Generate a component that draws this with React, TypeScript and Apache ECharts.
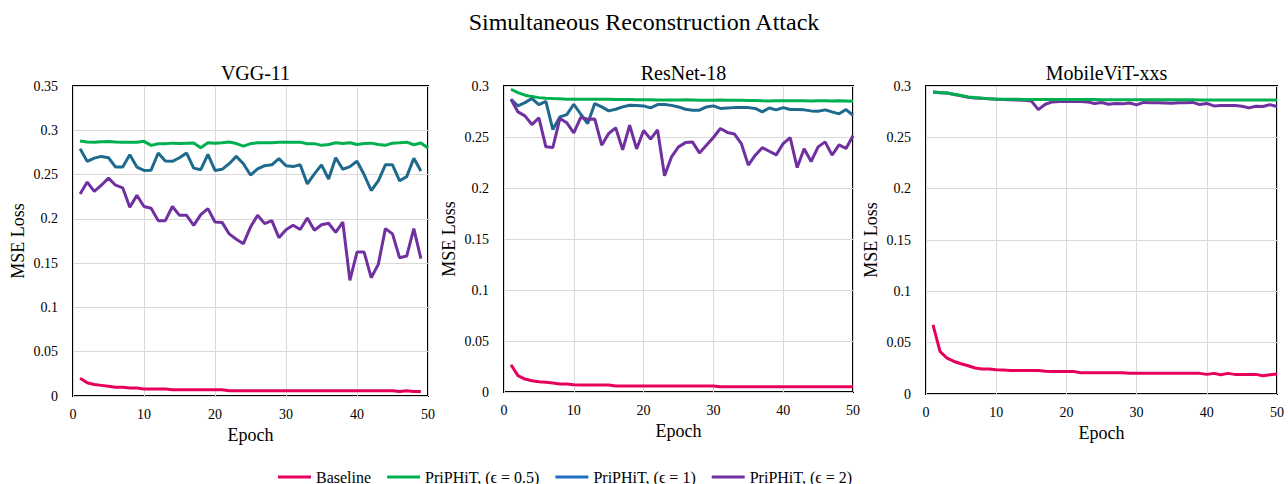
import React, { useEffect, useRef } from "react";
import * as echarts from "echarts";

const FONT = "'Liberation Serif', 'Times New Roman', serif";

const NAMES = ["Baseline", "PriPHiT, (ϵ = 0.5)", "PriPHiT, (ϵ = 1)", "PriPHiT, (ϵ = 2)"];
const COLORS = ["#E6005C", "#00B050", "#1D6A8C", "#7030A0"];
const LEGEND_COLORS = ["#E6005C", "#00B050", "#1F70C0", "#7030A0"];
const PANEL_TITLES = ["VGG-11", "ResNet-18", "MobileViT-xxs"];
const Y_MAX = [0.35, 0.3, 0.3];
const X_TICKS = [0, 10, 20, 30, 40, 50];

// VGG-11
const vggBaseline = [0.020, 0.015, 0.013, 0.012, 0.011, 0.010, 0.010, 0.009, 0.009, 0.008, 0.008, 0.008, 0.008, 0.007, 0.007, 0.007, 0.007, 0.007, 0.007, 0.007, 0.007, 0.006, 0.006, 0.006, 0.006, 0.006, 0.006, 0.006, 0.006, 0.006, 0.006, 0.006, 0.006, 0.006, 0.006, 0.006, 0.006, 0.006, 0.006, 0.006, 0.006, 0.006, 0.006, 0.006, 0.006, 0.005, 0.006, 0.005, 0.005];
const vggEps05 = [0.288, 0.2867, 0.2865, 0.287, 0.2873, 0.2868, 0.2866, 0.2866, 0.2866, 0.2875, 0.283, 0.2848, 0.2848, 0.2855, 0.285, 0.2855, 0.2857, 0.2803, 0.2859, 0.2855, 0.2859, 0.2867, 0.285, 0.2822, 0.2849, 0.286, 0.286, 0.286, 0.2866, 0.2866, 0.2866, 0.2866, 0.2849, 0.2849, 0.283, 0.284, 0.286, 0.285, 0.286, 0.284, 0.285, 0.2855, 0.284, 0.283, 0.2855, 0.286, 0.2866, 0.2837, 0.2856, 0.280];
const vggEps1 = [0.2792, 0.2649, 0.2686, 0.2705, 0.269, 0.2585, 0.2585, 0.2724, 0.2585, 0.2547, 0.255, 0.2743, 0.2652, 0.265, 0.269, 0.2743, 0.2573, 0.2555, 0.2728, 0.2547, 0.2559, 0.2623, 0.2705, 0.2623, 0.2495, 0.2564, 0.260, 0.261, 0.268, 0.260, 0.259, 0.261, 0.2395, 0.2508, 0.261, 0.245, 0.269, 0.256, 0.259, 0.265, 0.250, 0.232, 0.243, 0.261, 0.261, 0.243, 0.2477, 0.2685, 0.254];
const vggEps2 = [0.228, 0.2415, 0.231, 0.238, 0.246, 0.238, 0.235, 0.213, 0.2265, 0.214, 0.212, 0.198, 0.198, 0.214, 0.204, 0.204, 0.1926, 0.2047, 0.2115, 0.1964, 0.196, 0.183, 0.177, 0.172, 0.1907, 0.204, 0.1946, 0.198, 0.1788, 0.1878, 0.1927, 0.188, 0.2009, 0.187, 0.1934, 0.195, 0.1848, 0.1964, 0.1306, 0.1625, 0.1625, 0.1336, 0.1486, 0.189, 0.183, 0.156, 0.158, 0.189, 0.155];

// ResNet-18
const resBaseline = [0.0267, 0.016, 0.0127, 0.011, 0.010, 0.0095, 0.0088, 0.0078, 0.0078, 0.0072, 0.0068, 0.0068, 0.0068, 0.0068, 0.0068, 0.0059, 0.0059, 0.0059, 0.0059, 0.0059, 0.0059, 0.0059, 0.0059, 0.0059, 0.0059, 0.0059, 0.0059, 0.0059, 0.0059, 0.0059, 0.0052, 0.0052, 0.0052, 0.0052, 0.0052, 0.0052, 0.0052, 0.0052, 0.0052, 0.0052, 0.0052, 0.0052, 0.0052, 0.0052, 0.0052, 0.0052, 0.0052, 0.0052, 0.0052, 0.0052];
const resEps05 = [0.2968, 0.2935, 0.291, 0.2896, 0.2886, 0.288, 0.2877, 0.2875, 0.287, 0.287, 0.287, 0.287, 0.287, 0.287, 0.287, 0.2868, 0.2868, 0.2868, 0.2866, 0.2866, 0.2864, 0.2862, 0.2862, 0.2862, 0.2862, 0.2864, 0.2862, 0.286, 0.286, 0.286, 0.2862, 0.286, 0.286, 0.286, 0.2858, 0.2858, 0.2855, 0.2853, 0.2855, 0.2855, 0.2855, 0.2855, 0.2855, 0.2853, 0.2855, 0.2855, 0.2853, 0.2855, 0.2853, 0.285];
const resEps1 = [0.287, 0.2805, 0.2837, 0.2877, 0.2818, 0.285, 0.2573, 0.2697, 0.272, 0.2821, 0.2723, 0.2632, 0.2828, 0.2795, 0.2756, 0.2772, 0.2795, 0.2811, 0.281, 0.2805, 0.2785, 0.2818, 0.2818, 0.281, 0.2795, 0.2772, 0.2763, 0.2763, 0.2795, 0.2805, 0.278, 0.2785, 0.2788, 0.2788, 0.2788, 0.278, 0.2746, 0.2785, 0.2766, 0.2788, 0.2769, 0.2769, 0.2766, 0.2756, 0.2753, 0.2766, 0.2746, 0.2727, 0.2769, 0.2713];
const resEps2 = [0.287, 0.2746, 0.2707, 0.2622, 0.2687, 0.2404, 0.2397, 0.2681, 0.2639, 0.254, 0.2692, 0.2674, 0.2677, 0.242, 0.2534, 0.259, 0.2374, 0.2615, 0.2383, 0.2563, 0.2480, 0.2570, 0.2120, 0.2305, 0.2403, 0.2445, 0.2452, 0.2344, 0.242, 0.2495, 0.2583, 0.2545, 0.2530, 0.2436, 0.2224, 0.2322, 0.2395, 0.2360, 0.2325, 0.2436, 0.2494, 0.2200, 0.2384, 0.2260, 0.2403, 0.2452, 0.2322, 0.2423, 0.2387, 0.2513];

// MobileViT-xxs
const mvBaseline = [0.0674, 0.0414, 0.0350, 0.0317, 0.0295, 0.0275, 0.0253, 0.0243, 0.0243, 0.0236, 0.0234, 0.0230, 0.0228, 0.0228, 0.0228, 0.0228, 0.0222, 0.0220, 0.0220, 0.0220, 0.0220, 0.0208, 0.0208, 0.0208, 0.0208, 0.0208, 0.0208, 0.0208, 0.0201, 0.0201, 0.0201, 0.0201, 0.0201, 0.0201, 0.0201, 0.0201, 0.0201, 0.0201, 0.0201, 0.0191, 0.0201, 0.0188, 0.0201, 0.0191, 0.0191, 0.0191, 0.0191, 0.0178, 0.0188, 0.0194];
const mvEps05 = [0.2942, 0.2936, 0.2932, 0.292, 0.2907, 0.2894, 0.2887, 0.2881, 0.2877, 0.2874, 0.2872, 0.287, 0.287, 0.2868, 0.2868, 0.2868, 0.2868, 0.2868, 0.2868, 0.2868, 0.2868, 0.2868, 0.2868, 0.2868, 0.2866, 0.2866, 0.2866, 0.2866, 0.2866, 0.2866, 0.2866, 0.2866, 0.2865, 0.2865, 0.2865, 0.2865, 0.2865, 0.2865, 0.2864, 0.2864, 0.2864, 0.2864, 0.2864, 0.2864, 0.2864, 0.2864, 0.2864, 0.2864, 0.2864, 0.2864];
const mvEps2 = [0.2942, 0.2935, 0.2932, 0.2918, 0.2905, 0.289, 0.2884, 0.288, 0.2875, 0.2872, 0.2868, 0.2866, 0.2864, 0.286, 0.2855, 0.277, 0.2822, 0.2845, 0.2848, 0.2848, 0.2848, 0.2848, 0.2845, 0.2829, 0.284, 0.2822, 0.283, 0.2826, 0.2835, 0.2816, 0.284, 0.2838, 0.2838, 0.2835, 0.2832, 0.2838, 0.2838, 0.284, 0.2819, 0.283, 0.2806, 0.281, 0.281, 0.281, 0.2803, 0.2787, 0.2803, 0.280, 0.2819, 0.280];

const GRIDS = [
  { left: 73, top: 86, width: 355, height: 310 },
  { left: 504, top: 86, width: 349, height: 306 },
  { left: 926, top: 86, width: 351, height: 308 },
];

const toPairs = (arr: number[]) => arr.map((v, i) => [i + 1, v]);

export default function App() {
  const ref = useRef<HTMLDivElement>(null);
  useEffect(() => {
    if (!ref.current) return;
    const chart = echarts.init(ref.current, undefined, { renderer: "svg" });

    const panels: { idx: number; data: number[] }[][] = [
      [
        { idx: 0, data: vggBaseline },
        { idx: 1, data: vggEps05 },
        { idx: 2, data: vggEps1 },
        { idx: 3, data: vggEps2 },
      ],
      [
        { idx: 0, data: resBaseline },
        { idx: 1, data: resEps05 },
        { idx: 2, data: resEps1 },
        { idx: 3, data: resEps2 },
      ],
      [
        { idx: 0, data: mvBaseline },
        { idx: 3, data: mvEps2 },
        { idx: 1, data: mvEps05 },
      ],
    ];

    const series: any[] = [];
    panels.forEach((p, gi) => {
      p.forEach((s) => {
        series.push({
          type: "line",
          name: NAMES[s.idx],
          xAxisIndex: gi,
          yAxisIndex: gi,
          data: toPairs(s.data),
          symbol: "none",
          lineStyle: { color: COLORS[s.idx], width: 3 },
          itemStyle: { color: COLORS[s.idx] },
        });
      });
    });

    const axisText = { fontFamily: FONT, color: "#000", fontSize: 14 };

    chart.setOption({
      animation: false,
      backgroundColor: "#fff",
      textStyle: { fontFamily: FONT, color: "#000" },
      title: [
        {
          text: "Simultaneous Reconstruction Attack",
          left: "center",
          top: 5,
          textStyle: { fontFamily: FONT, fontSize: 24, fontWeight: "normal", color: "#000" },
        },
        ...PANEL_TITLES.map((t, i) => ({
          text: t,
          left: GRIDS[i].left + GRIDS[i].width / 2,
          textAlign: "center",
          top: 58,
          textStyle: { fontFamily: FONT, fontSize: 20, fontWeight: "normal", color: "#000" },
        })),
      ],
      legend: {
        left: 273,
        top: 464,
        icon: "rect",
        itemWidth: 33,
        itemHeight: 3,
        itemGap: 16,
        textStyle: { fontFamily: FONT, fontSize: 16, color: "#000" },
        data: NAMES.map((n, i) => ({ name: n, itemStyle: { color: LEGEND_COLORS[i] } })),
      },
      grid: GRIDS.map((g) => ({
        ...g,
        show: true,
        borderColor: "#000",
        borderWidth: 2,
        backgroundColor: "transparent",
        containLabel: false,
      })),
      xAxis: GRIDS.map((_, i) => ({
        type: "value",
        gridIndex: i,
        min: X_TICKS[0],
        max: X_TICKS[X_TICKS.length - 1],
        interval: 10,
        name: "Epoch",
        nameLocation: "middle",
        nameGap: 24,
        nameTextStyle: { fontFamily: FONT, fontSize: 18, color: "#000" },
        axisLine: { show: false },
        axisTick: { show: false },
        axisLabel: { ...axisText, margin: 11 },
        splitLine: { show: true, lineStyle: { color: "#d9d9d9", width: 1 } },
      })),
      yAxis: GRIDS.map((_, i) => ({
        type: "value",
        gridIndex: i,
        min: 0,
        max: Y_MAX[i],
        interval: 0.05,
        name: "MSE Loss",
        nameLocation: "middle",
        nameRotate: 90,
        nameGap: 46,
        nameTextStyle: { fontFamily: FONT, fontSize: 18, color: "#000" },
        axisLine: { show: false },
        axisTick: { show: false },
        axisLabel: { ...axisText, margin: 15, formatter: (v: number) => String(+v.toFixed(2)) },
        splitLine: { show: true, lineStyle: { color: "#d9d9d9", width: 1 } },
      })),
      series,
    });

    return () => chart.dispose();
  }, []);

  return (
    <div
      ref={ref}
      style={{ position: "fixed", left: 0, top: 0, width: 1288, height: 484, background: "#fff" }}
    />
  );
}
